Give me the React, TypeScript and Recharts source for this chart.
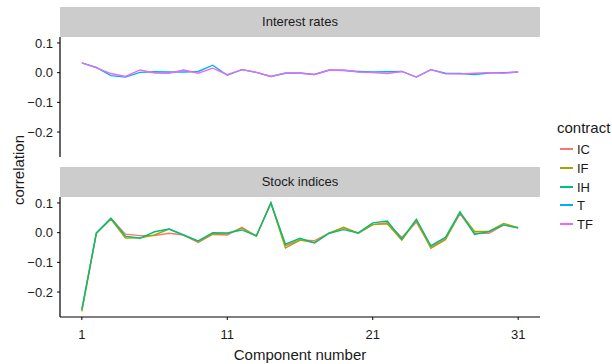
import { LineChart, Line, XAxis, YAxis } from "recharts";

const components = [1, 2, 3, 4, 5, 6, 7, 8, 9, 10, 11, 12, 13, 14, 15, 16, 17, 18, 19, 20, 21, 22, 23, 24, 25, 26, 27, 28, 29, 30, 31];

// interest rate futures
const tRates = [0.033, 0.018, -0.01, -0.015, 0.001, 0.003, 0.002, 0.002, 0.004, 0.025, -0.009, 0.01, 0.001, -0.013, -0.002, -0.001, -0.006, 0.009, 0.007, 0.004, 0.002, 0.003, 0.004, -0.015, 0.01, -0.002, -0.003, -0.006, -0.001, 0.0, 0.002];
const tfRates = [0.033, 0.016, -0.003, -0.013, 0.009, -0.001, -0.002, 0.009, -0.002, 0.015, -0.007, 0.01, 0.001, -0.013, -0.001, -0.002, -0.006, 0.008, 0.009, 0.002, 0.0, -0.003, 0.004, -0.015, 0.01, -0.004, -0.004, -0.002, 0.0, -0.002, 0.002];

// stock index futures
const icStock = [-0.262, -0.002, 0.048, -0.005, -0.01, -0.01, -0.002, -0.008, -0.033, -0.006, -0.008, 0.018, -0.011, 0.1, -0.044, -0.025, -0.027, -0.002, 0.016, -0.002, 0.027, 0.033, -0.016, 0.035, -0.049, -0.021, 0.063, -0.002, -0.002, 0.026, 0.017];
const ifStock = [-0.265, -0.002, 0.046, -0.018, -0.017, -0.008, 0.012, -0.008, -0.03, -0.003, -0.004, 0.015, -0.011, 0.1, -0.052, -0.025, -0.033, -0.002, 0.018, -0.002, 0.027, 0.03, -0.025, 0.042, -0.053, -0.024, 0.068, 0.004, 0.004, 0.031, 0.017];
const ihStock = [-0.258, -0.001, 0.048, -0.012, -0.019, 0.003, 0.012, -0.008, -0.028, 0.0, -0.001, 0.009, -0.011, 0.1, -0.039, -0.019, -0.035, -0.002, 0.01, -0.001, 0.033, 0.039, -0.022, 0.045, -0.044, -0.016, 0.07, -0.006, 0.004, 0.026, 0.015];

const yTicks = [-0.2, -0.1, 0, 0.1];
const xTicks = [1, 11, 21, 31];

const palette: Record<string, string> = {
  IC: "#F8766D",
  IF: "#A3A500",
  IH: "#00BF7D",
  T: "#00B0F6",
  TF: "#E76BF3",
};
const contracts = ["IC", "IF", "IH", "T", "TF"];

const FONT = "'Liberation Sans', Arial, Helvetica, sans-serif";
const INK = "#1a1a1a";
const PAD = 10; // headroom so the top tick label is not clipped

const rateRows = components.map((c, i) => ({ c, T: tRates[i], TF: tfRates[i] }));
const stockRows = components.map((c, i) => ({ c, IC: icStock[i], IF: ifStock[i], IH: ihStock[i] }));

const fmt = (v: number) => (v < 0 ? "\u2212" + Math.abs(v).toFixed(1) : v.toFixed(1));
const xDomain: [number, number] = [-0.5, 32.5];
const yDomain: [number, number] = [-0.284, 0.12];
const tickStyle = { fill: INK, fontSize: 13, fontFamily: FONT };

function Strip({ top, label }: { top: number; label: string }) {
  return (
    <div style={{ position: "absolute", left: 60, top, width: 480, height: 30, background: "#cccccc", color: INK, fontFamily: FONT, fontSize: 13, lineHeight: "30px", textAlign: "center" }}>
      {label}
    </div>
  );
}

// one facet panel; the plot area is 480 x 120 starting at (60, top)
function Panel({ rows, keys, top, showX }: { rows: any[]; keys: string[]; top: number; showX: boolean }) {
  return (
    <div style={{ position: "absolute", left: 0, top: top - PAD }}>
      <LineChart width={560} height={120 + PAD + (showX ? 30 : 0)} data={rows} margin={{ top: PAD, right: 20, bottom: 0, left: 0 }}>
        <XAxis type="number" dataKey="c" domain={xDomain} ticks={xTicks} interval={0} hide={!showX} tick={tickStyle} tickSize={3} tickMargin={10} axisLine={{ stroke: "#000", strokeWidth: 1.2 }} tickLine={{ stroke: "#000" }} height={30} />
        <YAxis type="number" domain={yDomain} ticks={yTicks} interval={0} allowDataOverflow tickFormatter={fmt} tick={tickStyle} tickSize={3} tickMargin={4} width={60} axisLine={{ stroke: "#000", strokeWidth: 1.2 }} tickLine={{ stroke: "#000" }} />
        {keys.map((k) => (
          <Line key={k} type="linear" dataKey={k} stroke={palette[k]} strokeWidth={1.4} dot={false} isAnimationActive={false} />
        ))}
      </LineChart>
    </div>
  );
}

export default function App() {
  return (
    <div style={{ position: "absolute", left: 0, top: 0, width: 612, height: 364, background: "#fff", fontFamily: FONT }}>
      <Panel rows={rateRows} keys={["T", "TF"]} top={37} showX={false} />
      <Panel rows={stockRows} keys={["IC", "IF", "IH"]} top={197} showX={true} />
      <Strip top={7} label="Interest rates" />
      <Strip top={167} label="Stock indices" />

      <div style={{ position: "absolute", left: 18, top: 170, transform: "translate(-50%, -50%) rotate(-90deg)", fontSize: 15, color: INK, whiteSpace: "nowrap" }}>
        correlation
      </div>
      <div style={{ position: "absolute", left: 300, top: 354, transform: "translate(-50%, -50%)", fontSize: 15, color: INK, whiteSpace: "nowrap" }}>
        Component number
      </div>

      <div style={{ position: "absolute", left: 557, top: 119, fontSize: 15, color: INK, lineHeight: "18px" }}>contract</div>
      {contracts.map((k, i) => (
        <div key={k} style={{ position: "absolute", left: 560, top: Math.round(140 + i * 18.8), height: 18, display: "flex", alignItems: "center", fontSize: 13, color: INK }}>
          <div style={{ width: 13, height: 2, background: palette[k] }} />
          <span style={{ marginLeft: 4 }}>{k}</span>
        </div>
      ))}
    </div>
  );
}
